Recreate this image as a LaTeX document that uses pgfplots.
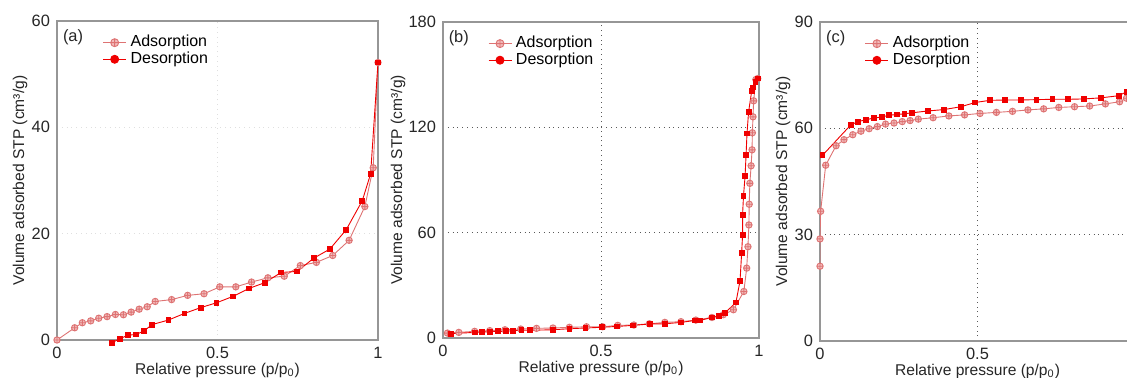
\documentclass[border=0pt]{standalone}
\usepackage{fontspec}
\setmainfont{Liberation Sans}
\usepackage{pgfplots}
\pgfplotsset{compat=1.18}
\definecolor{adsline}{RGB}{222,115,115}
\definecolor{adsfill}{RGB}{242,188,188}
\definecolor{desred}{RGB}{240,0,0}
\definecolor{spine}{RGB}{150,150,150}
\pgfplotsset{
  iso/.style={
    scale only axis, anchor=south west,
    axis line style={spine, line width=0.6pt},
    major tick length=0pt,
    tick label style={font=\fontsize{8.2}{9}\selectfont, text=black!85},
    /pgf/number format/assume math mode=true,
    label style={font=\fontsize{7.8}{9}\selectfont, text=black!85},
    xmin=0, xmax=1, xtick={0,0.5,1},
    xticklabels={0,0.5,1},
    xlabel={Relative pressure (p/p\textsubscript{0})},
    ylabel={Volume adsorbed STP (cm³/g)},
    xlabel style={at={(axis description cs:0.5,-0.095)}, anchor=center},
    grid=major,
    legend style={draw=none, fill=none, font=\fontsize{8}{9}\selectfont, row sep=-3pt, inner sep=1pt,
      legend cell align=left, at={(axis description cs:0.135,0.975)}, anchor=north west},
    legend image code/.code={\draw[mark repeat=2,mark phase=2,##1] plot coordinates {(0pt,0pt) (5.75pt,0pt) (11.5pt,0pt)};},
  },
  ads/.style={adsline, line width=0.45pt, mark=oplus*, mark size=1.6pt, mark options={fill=adsfill, draw=adsline}},
  des/.style={desred, line width=0.45pt, mark=square*, mark size=1.2pt, mark options={fill=desred, draw=desred}},
  adsleg/.style={adsline, line width=0.45pt, mark=oplus*, mark size=2pt, mark options={fill=adsfill, draw=adsline}},
  desleg/.style={desred, line width=0.45pt, mark=*, mark size=2pt, mark options={fill=desred, draw=desred}},
}
\begin{document}
\begin{tikzpicture}
% ---------------- (a)
\begin{axis}[iso, at={(28.5pt,18.5pt)}, width=160.5pt, height=159.5pt,
  ymin=0, ymax=60, ytick={0,20,40,60}, clip=false,
  grid style={gray!25, dotted, line width=0.5pt},
  ylabel style={at={(axis description cs:-0.115,0.5)}, anchor=center}]
\addlegendimage{adsleg}\addlegendentry{Adsorption}
\addlegendimage{desleg}\addlegendentry{Desorption}
\addplot[ads, forget plot] coordinates {
(0,0) (0.055,2.3) (0.079,3.25) (0.105,3.6) (0.13,4.1) (0.156,4.4) (0.182,4.8) (0.207,4.75)
(0.231,5.25) (0.256,5.8) (0.281,6.25) (0.306,7.25) (0.357,7.6) (0.407,8.4) (0.458,8.7)
(0.507,10.0) (0.557,10.0) (0.606,10.9) (0.657,11.7) (0.708,12.0) (0.758,14.0) (0.808,14.6)
(0.859,15.9) (0.91,18.75) (0.959,25.1) (0.985,32.4) (1.0,52.2)};
\addplot[des, forget plot] coordinates {
(1.0,52.2) (0.977,31.25) (0.951,26.2) (0.901,20.75) (0.85,17.1) (0.8,15.4) (0.748,12.9)
(0.698,12.7) (0.648,10.8) (0.598,9.7) (0.548,8.2) (0.497,7.0) (0.448,6.1) (0.397,5.0)
(0.347,3.75) (0.296,2.9) (0.271,1.7) (0.247,1.06) (0.221,0.9) (0.196,0.25) (0.172,-0.5)};
\node[font=\fontsize{8.2}{9}\selectfont, text=black!85] at (axis description cs:0.05,0.95) {(a)};
\end{axis}
% ---------------- (b)
\begin{axis}[iso, at={(221.5pt,19.5pt)}, width=158pt, height=158pt,
  ymin=0, ymax=180, ytick={0,60,120,180},
  grid style={black!65, dotted, line width=0.5pt},
  ylabel style={at={(axis description cs:-0.142,0.5)}, anchor=center}]
\addlegendimage{adsleg}\addlegendentry{Adsorption}
\addlegendimage{desleg}\addlegendentry{Desorption}
\addplot[ads, forget plot] coordinates {
(0.014,2.8) (0.05,3.2) (0.1,3.8) (0.148,4.2) (0.196,4.7) (0.246,5.1) (0.296,5.5) (0.348,5.7)
(0.40,6.1) (0.454,6.4) (0.505,6.4) (0.553,7.2) (0.604,7.4) (0.653,8.1) (0.702,8.9) (0.753,9.3)
(0.8,10.2) (0.851,11.7) (0.887,13.3) (0.919,16.1) (0.952,26.5) (0.961,39.8) (0.965,52)
(0.968,64.4) (0.969,76.2) (0.971,88.1) (0.975,98.1) (0.978,107.2) (0.979,116.9) (0.981,126)
(0.983,135.1) (0.99,147.2) (0.996,147.8)};
\addplot[des, forget plot] coordinates {
(0.996,147.8) (0.989,145.9) (0.982,142.7) (0.977,140.8) (0.967,128.8) (0.962,116.5)
(0.959,104.2) (0.956,92.5) (0.951,81.1) (0.948,70.3) (0.948,58.7) (0.945,48.3) (0.94,32.6)
(0.927,20.3) (0.892,14.2) (0.872,12.7) (0.851,11.7) (0.813,10.0) (0.797,10.0) (0.753,8.9)
(0.703,8.1) (0.654,8.0) (0.602,7.2) (0.551,6.6) (0.502,6.1) (0.451,5.7) (0.4,5.3) (0.348,4.7)
(0.275,4.4) (0.248,4.4) (0.222,4.2) (0.199,3.8) (0.174,3.8) (0.148,3.6) (0.124,3.4)
(0.1,3.2) (0.026,2.5)};
\node[font=\fontsize{8.2}{9}\selectfont, text=black!85] at (axis description cs:0.05,0.95) {(b)};
\end{axis}
% ---------------- (c)
\begin{axis}[iso, at={(410pt,18pt)}, width=157.5pt, height=159.5pt,
  ymin=0, ymax=90, ytick={0,30,60,90}, xtick={0,0.5}, xticklabels={0,0.5},
  grid style={black!65, dotted, line width=0.5pt},
  ylabel style={at={(axis description cs:-0.117,0.5)}, anchor=center}]
\addlegendimage{adsleg}\addlegendentry{Adsorption}
\addlegendimage{desleg}\addlegendentry{Desorption}
\addplot[ads, forget plot] coordinates {
(0,21.1) (0,28.8) (0.002,36.6) (0.018,49.6) (0.051,55.1) (0.076,56.8) (0.104,58.2) (0.13,59.2)
(0.156,59.9) (0.182,60.5) (0.208,61.2) (0.235,61.5) (0.261,61.9) (0.286,62.2) (0.312,62.6)
(0.359,63.0) (0.409,63.5) (0.459,63.8) (0.508,64.2) (0.56,64.5) (0.611,64.8) (0.66,65.2)
(0.71,65.5) (0.758,65.9) (0.808,66.1) (0.856,66.3) (0.906,66.9) (0.951,67.5) (0.973,68.5)};
\addplot[des, forget plot] coordinates {
(0.973,70.3) (0.948,69.2) (0.891,68.6) (0.838,68.3) (0.788,68.2) (0.738,68.2) (0.687,68.1)
(0.638,68.0) (0.587,68.0) (0.539,67.9) (0.493,67.3) (0.447,66.1) (0.394,65.3) (0.342,64.9)
(0.293,64.4) (0.268,64.1) (0.243,63.9) (0.219,63.7) (0.196,63.2) (0.17,62.9) (0.145,62.4)
(0.12,61.9) (0.097,60.9) (0.008,52.4)};
\node[font=\fontsize{8.2}{9}\selectfont, text=black!85] at (axis description cs:0.05,0.95) {(c)};
\end{axis}
\pgfresetboundingbox
\path[use as bounding box] (0pt,0pt) rectangle (563.5pt,188.5pt);
\end{tikzpicture}
\end{document}
